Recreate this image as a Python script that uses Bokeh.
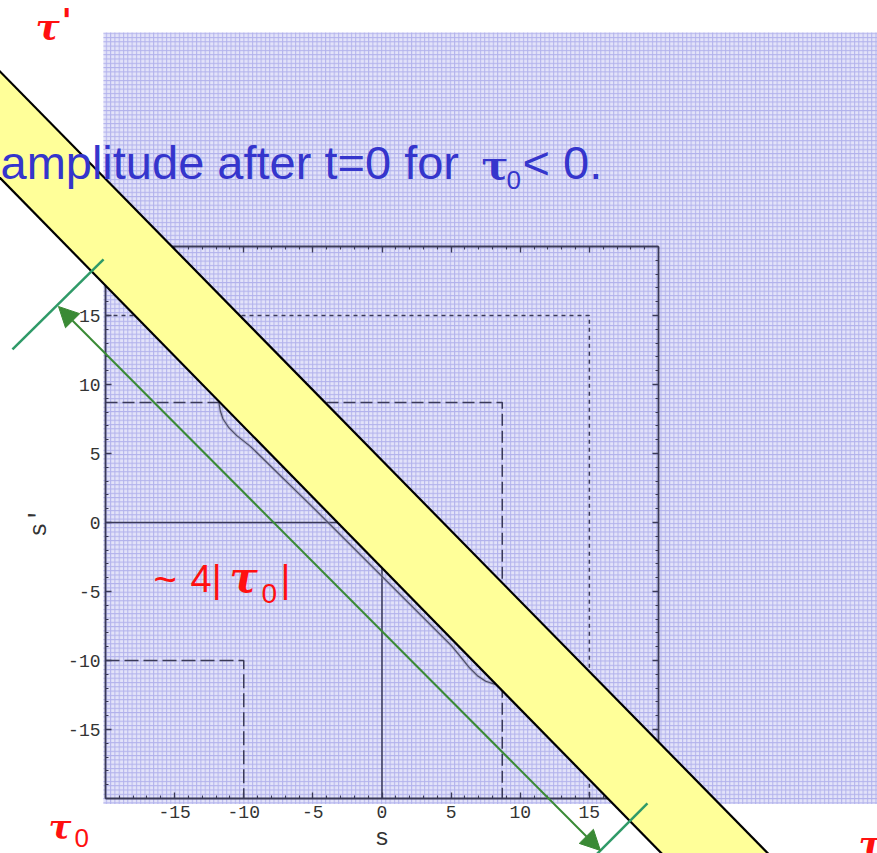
from bokeh.plotting import figure
from bokeh.models import Range1d, LinearAxis, FixedTicker, Label, Arrow, NormalHead
from bokeh.embed import file_html
from bokeh.resources import INLINE

# ---- data -------------------------------------------------------------
AXIS_MIN, AXIS_MAX = -20, 20
major_ticks = [-15, -10, -5, 0, 5, 10, 15]
minor_ticks = list(range(-20, 21))

# corner boxes: each runs from the left edge at s' = level to s = level, then down
box_levels = [15, 8.7, 0, -10]
box_dashes = ["4 4", "12 5", "solid", "14 5"]

# contour hugging the lower edge of the band
curve_s = [-11.8, -11.7, -11.5, -11.1, -10.5, -9.5, -5.0, 0.0, 5.0, 5.5, 6.3, 6.9, 7.5, 8.1, 8.7]
curve_sp = [8.7, 8.1, 7.5, 6.9, 6.3, 5.5, 1.1, -3.9, -8.9, -9.5, -10.5, -11.1, -11.5, -11.7, -11.8]

# diagonal band (edge end points)
band_lower_s = [-30.0, 22.2]
band_lower_sp = [27.4, -26.0]
band_upper_s = [-30.0, 29.9]
band_upper_sp = [35.1, -26.0]

# width marker (~4|tau0|) across the band direction
arrow_s = [-23.4, 15.8]
arrow_sp = [15.65, -23.77]
bar_top_s = [-26.73, -20.14]
bar_top_sp = [12.54, 19.06]
bar_bot_s = [12.48, 19.2]
bar_bot_sp = [-27.1, -20.36]

# shaded backdrop
bg_left, bg_right, bg_bottom, bg_top = -20.15, 36.5, -20.4, 35.5

# ---- figure -----------------------------------------------------------
W, H = 877, 853
PX_X = 13.825
PX_Y = 13.8
x0_px, y0_px = 381.5, 522.0

p = figure(width=W, height=H, output_backend="svg", toolbar_location=None,
           x_range=Range1d(-x0_px / PX_X, (W - x0_px) / PX_X),
           y_range=Range1d((y0_px - H) / PX_Y, y0_px / PX_Y),
           x_axis_type=None, y_axis_type=None, title=None,
           min_border=0, outline_line_color=None,
           background_fill_color="white", border_fill_color="white")

p.quad(left=[bg_left], right=[bg_right], bottom=[bg_bottom], top=[bg_top],
       fill_color="#e3e3f9", line_color=None,
       hatch_pattern="+", hatch_color="#b2b2ec", hatch_scale=4.3, hatch_weight=1)

LINE = "#3a3a58"
for lvl, dash in zip(box_levels, box_dashes):
    p.line([AXIS_MIN, lvl, lvl], [lvl, lvl, AXIS_MIN], line_color=LINE,
           line_width=1.5, line_dash=dash)

p.line(curve_s, curve_sp, line_color="#9090b0", line_width=3.0, line_alpha=0.5)
p.line(curve_s, curve_sp, line_color="#4a4a66", line_width=1.1)


def make_axis(loc, label=None):
    ax = LinearAxis(fixed_location=loc, bounds=(AXIS_MIN, AXIS_MAX),
                    ticker=FixedTicker(ticks=major_ticks, minor_ticks=minor_ticks),
                    axis_line_color=LINE, axis_line_width=1.8,
                    major_tick_line_color=LINE, minor_tick_line_color=LINE,
                    major_tick_line_width=1.3, minor_tick_line_width=1.1,
                    major_tick_in=6, major_tick_out=0,
                    minor_tick_in=3, minor_tick_out=0,
                    major_label_overrides={t: str(t) for t in major_ticks},
                    major_label_text_font="Liberation Mono",
                    major_label_text_font_size="18px",
                    major_label_text_color="#333333")
    if label is None:
        ax.major_label_text_font_size = "0px"
        ax.major_label_text_color = None
    else:
        ax.axis_label = label
        ax.axis_label_text_font = "Liberation Mono"
        ax.axis_label_text_font_size = "24px"
        ax.axis_label_text_font_style = "normal"
        ax.axis_label_text_color = "#333333"
    return ax


bottom_ax = make_axis(AXIS_MIN, "s")
bottom_ax.major_label_standoff = 7
bottom_ax.axis_label_standoff = 4
left_ax = make_axis(AXIS_MIN, "s'")
left_ax.major_label_standoff = 5
left_ax.axis_label_standoff = 12
p.add_layout(bottom_ax, "below")
p.add_layout(left_ax, "left")
p.add_layout(make_axis(AXIS_MAX), "above")
p.add_layout(make_axis(AXIS_MAX), "right")

# the band sits over the axes
p.patch(band_lower_s + band_upper_s[::-1], band_lower_sp + band_upper_sp[::-1],
        fill_color="#ffff99", line_color=None, level="annotation")
p.line(band_lower_s, band_lower_sp, line_color="black", line_width=2.2, level="annotation")
p.line(band_upper_s, band_upper_sp, line_color="black", line_width=2.2, level="annotation")

# width marker
GREEN_BAR = "#2f9a68"
GREEN_ARROW = "#3a8a35"
p.line(bar_top_s, bar_top_sp, line_color=GREEN_BAR, line_width=2.5, level="overlay")
p.line(bar_bot_s, bar_bot_sp, line_color=GREEN_BAR, line_width=2.5, level="overlay")
p.add_layout(Arrow(x_start=arrow_s[0], y_start=arrow_sp[0],
                   x_end=arrow_s[1], y_end=arrow_sp[1],
                   line_color=GREEN_ARROW, line_width=2,
                   start=NormalHead(size=20, fill_color=GREEN_ARROW, line_color=GREEN_ARROW),
                   end=NormalHead(size=20, fill_color=GREEN_ARROW, line_color=GREEN_ARROW),
                   level="overlay"))

# ---- texts --------------------------------------------------------------
BLUE = "#3535cc"
RED = "#ff1010"
SERIF = "DejaVu Serif"


def txt(x, y, text, size, color, font="Liberation Sans", style="normal"):
    # y is the baseline measured from the top of the page
    p.add_layout(Label(x=x, y=H - y + 0.35 * size, x_units="screen", y_units="screen",
                       text=text, text_font=font, text_font_size=f"{size}px",
                       text_font_style=style, text_color=color,
                       text_baseline="alphabetic", text_align="left", level="overlay"))


txt(0, 178, "amplitude after t=0 for", 47, BLUE)
txt(481, 178, "τ", 40, BLUE, SERIF, "bold")
txt(506, 189, "0", 26, BLUE)
txt(522, 178, "< 0.", 47, BLUE)

txt(35, 38, "τ", 36, RED, SERIF, "bold italic")
txt(61, 32, "'", 34, RED, SERIF, "bold")
txt(48, 838, "τ", 34, RED, SERIF, "bold italic")
txt(74, 847, "0", 26, RED)
txt(858, 855, "τ", 36, RED, SERIF, "bold italic")

txt(153, 592, "~", 40, RED)
txt(190, 592, "4|", 38, RED)
txt(229, 592, "τ", 42, RED, SERIF, "bold italic")
txt(261, 603, "0", 28, RED)
txt(280, 592, "|", 38, RED)

open("out.html", "w").write(file_html(p, INLINE))
